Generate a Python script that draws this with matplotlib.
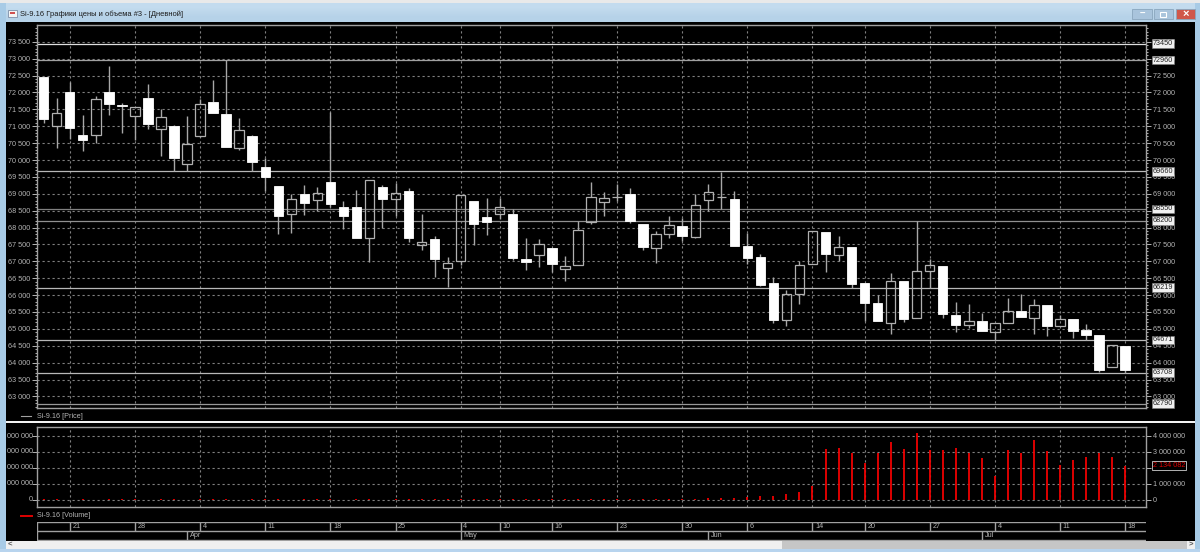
import numpy as np
import matplotlib
matplotlib.use('Agg')
import matplotlib.pyplot as plt
from matplotlib.patches import Rectangle
from matplotlib.ticker import MultipleLocator, FuncFormatter

plt.rcParams['font.family'] = ['Liberation Sans', 'DejaVu Sans']

# Candle data
opens = [72460, 71020, 72000, 70730, 70750, 72000, 71630, 71290, 71850, 70910, 71000, 69870,
         70700, 71710, 71370, 70370, 70700, 69800, 69220, 68400, 69000, 68826, 69360, 68620,
         68600, 67690, 69190, 68855, 69083, 67490, 67650, 66790, 67020, 68800, 68310, 68400,
         68400, 67070, 67180, 67405, 66780, 66880, 68175, 68765, 68905, 69005, 68105, 67385,
         67820, 68055, 67730, 68825, 68895, 68835, 67455, 67140, 66365, 65270, 66020, 66930,
         67860, 67200, 67425, 66360, 65780, 65185, 66410, 65320, 66725, 66860, 65410, 65105,
         65225, 64920, 65175, 65540, 65330, 65700, 65075, 65280, 64955, 64830, 63860, 64480]
closes = [71210, 71380, 70940, 70600, 71800, 71650, 71590, 71560, 71070, 71260, 70060, 70460,
          71650, 71400, 70400, 70880, 69930, 69500, 68340, 68860, 68740, 69010, 68710, 68340,
          67690, 69420, 68845, 69015, 67690, 67560, 67070, 66940, 68960, 68105, 68155, 68600,
          67090, 66980, 67500, 66920, 66860, 67920, 68895, 68865, 68905, 68195, 67415, 67810,
          68065, 67740, 68670, 69045, 68895, 67465, 67090, 66310, 65270, 66020, 66900, 67890,
          67210, 67415, 66340, 65770, 65225, 66410, 65300, 66725, 66900, 65450, 65115, 65235,
          64930, 65165, 65540, 65340, 65700, 65085, 65290, 64945, 64830, 63790, 64510, 63770]
highs = [72460, 71850, 72320, 71340, 71910, 72780, 71680, 71560, 72260, 71500, 71050, 71290,
         71800, 72370, 72960, 71230, 70740, 70050, 69220, 69000, 69250, 69210, 71420, 68785,
         69110, 69420, 69260, 69310, 69160, 68400, 67750, 67130, 68960, 68800, 68865, 68885,
         68550, 67690, 67670, 67405, 67150, 68205, 69340, 69050, 69300, 69180, 68105, 67900,
         68340, 68280, 68995, 69280, 69655, 69070, 67850, 67220, 66535, 66150, 67000, 67890,
         67860, 67740, 67425, 66360, 66000, 66645, 66410, 68200, 67070, 66860, 65785, 65735,
         65480, 65165, 65905, 66025, 65895, 65700, 65410, 65280, 65145, 64830, 64510, 64480]
lows = [71100, 70370, 70630, 70270, 70490, 71340, 70810, 70590, 70930, 70120, 69670, 69670,
        70670, 71400, 70400, 70300, 69670, 69080, 67810, 67850, 68370, 68490, 68620, 67970,
        67690, 66990, 67995, 68350, 67560, 67346, 66540, 66250, 66890, 67480, 67780, 68250,
        67040, 66740, 66840, 66695, 66430, 66880, 68105, 68340, 68800, 68135, 67345, 66960,
        67700, 67600, 67700, 68490, 68550, 67465, 66920, 66270, 65170, 65090, 65740, 66930,
        66685, 67000, 66210, 65240, 65225, 64860, 65205, 65320, 66200, 65330, 64920, 65015,
        64930, 64670, 65175, 65340, 64840, 64800, 65075, 64730, 64660, 63720, 63860, 63700]
volumes = [15000, 15000, 12000, 15000, 12000, 15000, 15000, 15000, 12000, 15000, 15000, 12000,
           15000, 15000, 15000, 12000, 15000, 15000, 15000, 12000, 15000, 15000, 15000, 12000,
           15000, 15000, 12000, 15000, 15000, 15000, 20000, 15000, 20000, 15000, 20000, 20000,
           20000, 20000, 20000, 20000, 25000, 25000, 25000, 25000, 25000, 30000, 50000, 60000,
           35000, 50000, 60000, 100000, 85000, 125000, 145000, 230000, 250000, 335000, 460000,
           860000, 3180000, 3220000, 2950000, 2300000, 2950000, 3620000, 3180000, 4170000,
           3120000, 3100000, 3220000, 2950000, 2600000, 1490000, 3120000, 2910000, 3750000,
           3060000, 2200000, 2490000, 2700000, 2950000, 2700000, 2134082]

# Horizontal levels on the price panel and their labels
levels = [73450, 72960, 69660, 68550, 68200, 66219, 64671, 63708, 62790]
level_colors = ['#e0e0e0', '#a0a0a0', '#b8b8b8', '#808080', '#909090', '#b8b8b8', '#b8b8b8', '#b8b8b8', '#989898']

# Date axis
date_pos = [2, 7, 12, 17, 22, 27, 32, 35, 39, 44, 49, 54, 59, 63, 68, 73, 78, 83]
date_labels = ['21', '28', '4', '11', '18', '25', '4', '10', '16', '23', '30', '6', '14', '20', '27', '4', '11', '18']
month_pos = [11, 32, 51, 72]
month_labels = ['Apr', 'May', 'Jun', 'Jul']

W, H = 1200, 552
GREY = '#b4b4b4'
GRID = '#808080'
FONT = 5.2


def px_axes(left, top, right, bottom, **kw):
    return fig.add_axes([left / W, 1 - bottom / H, (right - left) / W, (bottom - top) / H], **kw)


fig = plt.figure(figsize=(12, 5.52), dpi=100, facecolor='black')

# Window frame, drawn in pixel coordinates
bg = fig.add_axes([0, 0, 1, 1])
bg.set_xlim(0, W)
bg.set_ylim(H, 0)
bg.axis('off')
bg.imshow([[0.0], [1.0]], extent=(0, W, 22, 3), aspect='auto', interpolation='bilinear',
          cmap=matplotlib.colors.LinearSegmentedColormap.from_list('t', ['#c3dbee', '#b6d2e8']))
bg.set_xlim(0, W)
bg.set_ylim(H, 0)
for x, y, w, h, c in [(0, 0, W, 3, '#e9e9e9'), (0, 3, 6, 549, '#a8cbe6'), (1195, 3, 5, 549, '#a8cbe6'),
                      (6, 22, 1189, 519, 'black'), (6, 541, 776, 8, '#f0f0f0'), (782, 541, 405, 8, '#c6c6c6'),
                      (1187, 541, 8, 8, '#f0f0f0'), (0, 549, W, 3, '#b8d4ee'), (6, 421, 1189, 1.5, '#f2f2f2')]:
    bg.add_patch(Rectangle((x, y), w, h, facecolor=c, edgecolor='none'))
for x, w, c in [(1132, 20, '#a9c4dc'), (1154, 19, '#a9c4dc'), (1176, 19, '#d0574a')]:
    bg.add_patch(Rectangle((x, 9), w, 10, facecolor=c, edgecolor='#8aa6bd', lw=0.6))
bg.text(1142, 14, '–', color='white', fontsize=7, ha='center', va='center', fontweight='bold')
bg.add_patch(Rectangle((1160, 11.5), 6, 5, facecolor='none', edgecolor='white', lw=0.8))
bg.text(1185.5, 14, '×', color='white', fontsize=8, ha='center', va='center', fontweight='bold')
bg.add_patch(Rectangle((8, 10), 9, 7, facecolor='#f4f4f4', edgecolor='#7f8fa8', lw=0.6))
bg.add_patch(Rectangle((10, 12), 5, 2, facecolor='#d05050', edgecolor='none'))
bg.text(20, 14, 'Si-9.16 Графики цены и объема #3 - [Дневной]', color='#1a1a1a', fontsize=5.4, va='center')
bg.text(10, 545, '<', color='#555555', fontsize=5.5, ha='center', va='center', fontweight='bold')
bg.text(1191, 545, '>', color='#555555', fontsize=5.5, ha='center', va='center', fontweight='bold')

# Legends of both panels
bg.plot([21, 31], [416, 416], color='#a0a0a0', lw=0.8)
bg.text(37, 416, 'Si-9.16 [Price]', color=GREY, fontsize=FONT, va='center')
bg.plot([21, 32], [515.5, 515.5], color='#e00000', lw=1.4)
bg.text(37, 515.5, 'Si-9.16 [Volume]', color=GREY, fontsize=FONT, va='center')
bg.set_xlim(0, W)
bg.set_ylim(H, 0)

x = np.arange(len(opens))
xlim = ((37 - 43.7) / 13.03, (1146 - 43.7) / 13.03)


def style_panel(ax):
    ax.set_facecolor('black')
    ax.set_xlim(xlim)
    ax.set_xticks(date_pos)
    ax.tick_params(axis='x', length=0, labelbottom=False)
    ax.grid(True, color=GRID, lw=0.8, ls=(0, (2, 2.5)))
    ax.set_axisbelow(True)
    ax.tick_params(axis='y', which='both', left=True, right=True, labelleft=True, labelright=True,
                   colors=GREY, labelsize=FONT, width=0.7, pad=1.5)
    ax.tick_params(axis='y', which='major', length=3.5)
    ax.tick_params(axis='y', which='minor', length=1.5)
    for s in ax.spines.values():
        s.set_color('#a0a0a0')
        s.set_linewidth(1.0)


def spaced(v, pos=None):
    return f'{int(v):,}'.replace(',', ' ')


# Price panel
ax = px_axes(37, 25, 1146, 408)
style_panel(ax)
ax.set_ylim(73000 - (408 - 58.7) * 29.61, 73000 - (25 - 58.7) * 29.61)
ax.set_yticks(np.arange(63000, 73501, 500))
ax.yaxis.set_minor_locator(MultipleLocator(100))
ax.yaxis.set_major_formatter(FuncFormatter(spaced))

for lev, c in zip(levels, level_colors):
    ax.axhline(lev, color=c, lw=0.9, zorder=1.5)

opens_a, closes_a = np.array(opens), np.array(closes)
highs_a, lows_a = np.array(highs), np.array(lows)
tops = np.maximum(opens_a, closes_a)
bottoms = np.minimum(opens_a, closes_a)
down = opens_a > closes_a

ax.vlines(x, tops, highs_a, color='#a8a8a8', lw=1.0, zorder=2)
ax.vlines(x, lows_a, bottoms, color='#a8a8a8', lw=1.0, zorder=2)
ax.bar(x[down], (tops - bottoms)[down], bottom=bottoms[down], width=0.72, color='white',
       edgecolor='white', lw=0.6, zorder=3)
ax.bar(x[~down], (tops - bottoms)[~down], bottom=bottoms[~down], width=0.72, facecolor='none',
       edgecolor='#b0b0b0', lw=0.9, zorder=3)

# Boxed level labels on the right
for lev in levels:
    ax.text(1.0062, lev, str(lev), transform=ax.get_yaxis_transform(), color='#202020', fontsize=FONT,
            va='center', ha='left', zorder=6, clip_on=False,
            bbox=dict(boxstyle='square,pad=0.12', facecolor='#f0f0f0', edgecolor='#808080', lw=0.4))

# Volume panel
ax2 = px_axes(37, 426.7, 1146, 507.3)
style_panel(ax2)
ax2.set_ylim(-(507.3 - 499.7) / 63.7 * 4e6, (499.7 - 426.7) / 63.7 * 4e6)
ax2.set_yticks(np.arange(0, 4000001, 1000000))
ax2.yaxis.set_major_formatter(FuncFormatter(spaced))
ax2.tick_params(axis='y', labelleft=False)
ax2.vlines(x, 0, volumes, color='#f00000', lw=1.3, zorder=3)
for v in ax2.get_yticks():
    ax2.text(-0.0036, v, spaced(v)[-7:], transform=ax2.get_yaxis_transform(), color=GREY, fontsize=FONT,
             ha='right', va='center', clip_on=False)
ax2.text(1.0062, volumes[-1], spaced(volumes[-1]), transform=ax2.get_yaxis_transform(), color='#e00000',
         fontsize=FONT, va='center', ha='left', clip_on=False, zorder=6,
         bbox=dict(boxstyle='square,pad=0.15', facecolor='black', edgecolor='#d0d0d0', lw=0.6))

# Date strip under the panels
ax3 = px_axes(37, 521.7, 1146, 540.5)
ax3.set_facecolor('black')
ax3.set_xlim(xlim)
ax3.set_ylim(2, 0)
ax3.set_xticks([])
ax3.set_yticks([])
for s in ax3.spines.values():
    s.set_visible(False)
ax3.axhline(0.03, color='#a0a0a0', lw=1.0)
ax3.axhline(1, color='#a0a0a0', lw=1.0)
ax3.axhline(1.97, color='#a0a0a0', lw=1.0)
ax3.vlines(xlim[0] + 0.03, 0, 2, color='#a0a0a0', lw=1.0)
ax3.vlines(date_pos, 0, 1, color='#a0a0a0', lw=1.0)
ax3.vlines(month_pos, 1, 2, color='#a0a0a0', lw=1.0)
for p, lab in zip(date_pos, date_labels):
    ax3.text(p + 0.2, 0.52, lab, color=GREY, fontsize=FONT, va='center', ha='left')
for p, lab in zip(month_pos, month_labels):
    ax3.text(p + 0.2, 1.52, lab, color=GREY, fontsize=FONT, va='center', ha='left')

fig.savefig('out.png', dpi=100, facecolor=fig.get_facecolor())
